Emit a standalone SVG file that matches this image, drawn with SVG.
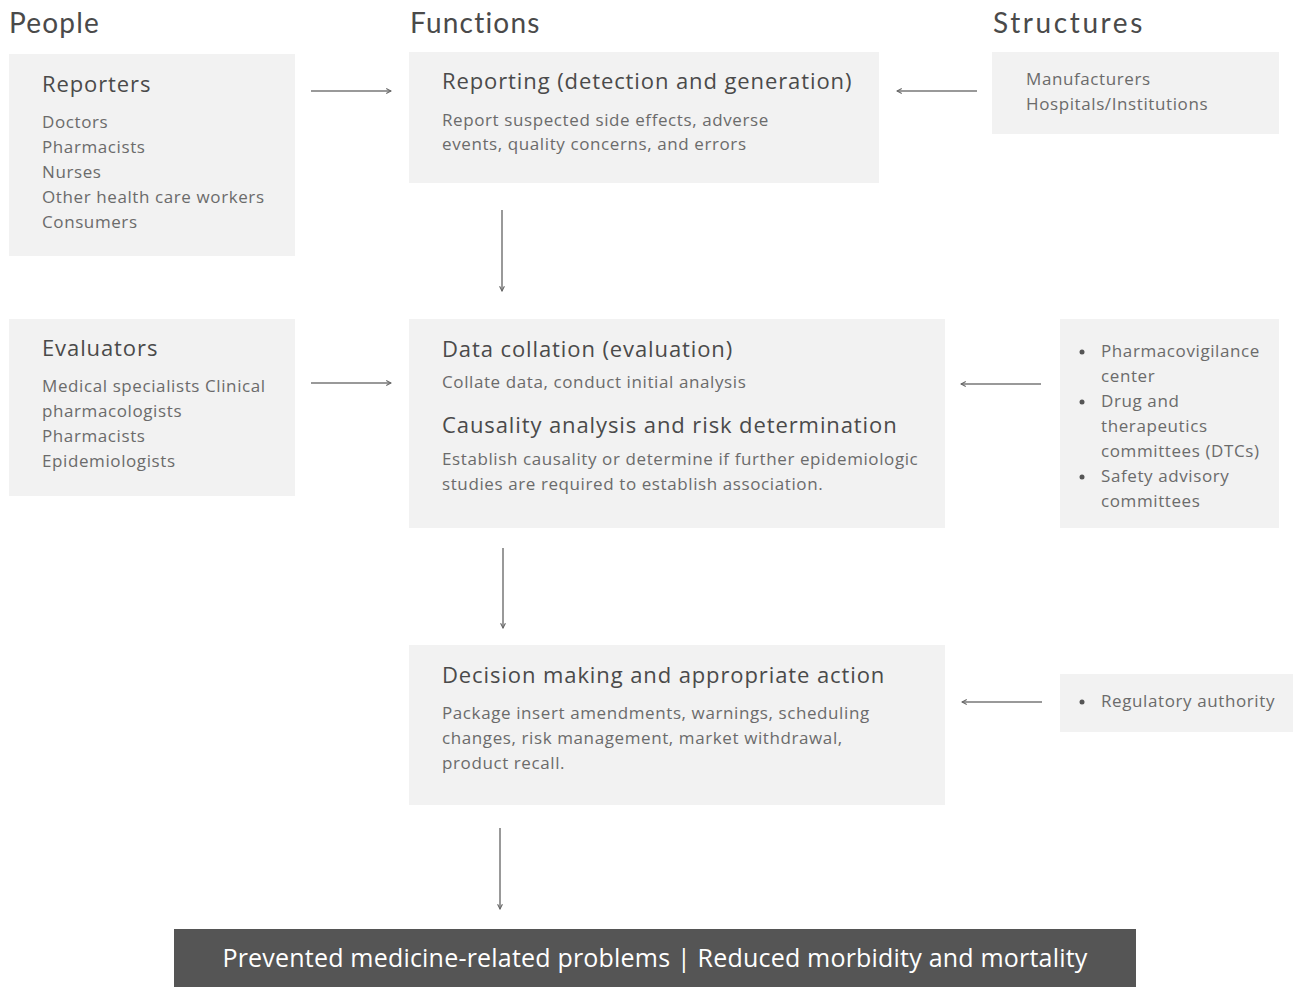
<svg xmlns="http://www.w3.org/2000/svg" width="1293" height="987" viewBox="0 0 1293 987">
<style>
.bg{fill:#fff}
.box{fill:#f2f2f2}
.hd{font-family:Lato,"Open Sans",sans-serif;font-size:28px;fill:#4a4a4a;letter-spacing:1.2px}
.tt{font-family:"Open Sans",Lato,sans-serif;font-size:22px;fill:#4a4a4a;letter-spacing:0.9px}
.tx{font-family:"Open Sans",Lato,sans-serif;font-size:17px;fill:#6b6b6b;letter-spacing:0.6px}
.bt{font-family:"Open Sans",Lato,sans-serif;font-size:25px;fill:#fff;letter-spacing:0.2px}
.cn{stroke:#777;stroke-width:1.5;fill:none;marker-end:url(#ah)}
</style>
<defs>
<marker id="ah" viewBox="0 0 10 10" refX="9" refY="5" markerWidth="6" markerHeight="6" orient="auto" markerUnits="userSpaceOnUse">
<path d="M1,1 L9,5 L1,9" fill="none" stroke="#666" stroke-width="1.8"/>
</marker>
</defs>
<rect class="bg" width="1293" height="987"/>
<g id="headers">
<text class="hd" x="9" y="33">People</text>
<text class="hd" x="410" y="33">Functions</text>
<text class="hd" x="993" y="33" style="letter-spacing:2.6px">Structures</text>
</g>
<g id="reporters">
<rect class="box" x="9" y="54" width="286" height="202"/>
<text class="tt" x="42" y="92">Reporters</text>
<text class="tx" x="42" y="128">Doctors</text>
<text class="tx" x="42" y="153">Pharmacists</text>
<text class="tx" x="42" y="178">Nurses</text>
<text class="tx" x="42" y="203">Other health care workers</text>
<text class="tx" x="42" y="228">Consumers</text>
</g>
<g id="reporting">
<rect class="box" x="409" y="52" width="470" height="131"/>
<text class="tt" x="442" y="89">Reporting (detection and generation)</text>
<text class="tx" x="442" y="126">Report suspected side effects, adverse</text>
<text class="tx" x="442" y="150">events, quality concerns, and errors</text>
</g>
<g id="structures1">
<rect class="box" x="992" y="52" width="287" height="82"/>
<text class="tx" x="1026" y="85">Manufacturers</text>
<text class="tx" x="1026" y="110">Hospitals/Institutions</text>
</g>
<g id="evaluators">
<rect class="box" x="9" y="319" width="286" height="177"/>
<text class="tt" x="42" y="356">Evaluators</text>
<text class="tx" x="42" y="392">Medical specialists Clinical</text>
<text class="tx" x="42" y="417">pharmacologists</text>
<text class="tx" x="42" y="442">Pharmacists</text>
<text class="tx" x="42" y="467">Epidemiologists</text>
</g>
<g id="collation">
<rect class="box" x="409" y="319" width="536" height="209"/>
<text class="tt" x="442" y="357">Data collation (evaluation)</text>
<text class="tx" x="442" y="388">Collate data, conduct initial analysis</text>
<text class="tt" x="442" y="433">Causality analysis and risk determination</text>
<text class="tx" x="442" y="465">Establish causality or determine if further epidemiologic</text>
<text class="tx" x="442" y="490">studies are required to establish association.</text>
</g>
<g id="structures2">
<rect class="box" x="1060" y="319" width="219" height="209"/>
<circle cx="1082" cy="352" r="2.5" fill="#555"/>
<circle cx="1082" cy="402" r="2.5" fill="#555"/>
<circle cx="1082" cy="477" r="2.5" fill="#555"/>
<text class="tx" x="1101" y="357">Pharmacovigilance</text>
<text class="tx" x="1101" y="382">center</text>
<text class="tx" x="1101" y="407">Drug and</text>
<text class="tx" x="1101" y="432">therapeutics</text>
<text class="tx" x="1101" y="457">committees (DTCs)</text>
<text class="tx" x="1101" y="482">Safety advisory</text>
<text class="tx" x="1101" y="507">committees</text>
</g>
<g id="decision">
<rect class="box" x="409" y="645" width="536" height="160"/>
<text class="tt" x="442" y="683">Decision making and appropriate action</text>
<text class="tx" x="442" y="719">Package insert amendments, warnings, scheduling</text>
<text class="tx" x="442" y="744">changes, risk management, market withdrawal,</text>
<text class="tx" x="442" y="769">product recall.</text>
</g>
<g id="structures3">
<rect class="box" x="1060" y="674" width="233" height="58"/>
<circle cx="1082" cy="702" r="2.5" fill="#555"/>
<text class="tx" x="1101" y="707">Regulatory authority</text>
</g>
<g id="outcome">
<rect x="174" y="929" width="962" height="58" fill="#555"/>
<text class="bt" x="655" y="967" text-anchor="middle">Prevented medicine-related problems | Reduced morbidity and mortality</text>
</g>
<g id="connectors">
<line class="cn" x1="311" y1="91" x2="391" y2="91"/>
<line class="cn" x1="977" y1="91" x2="897" y2="91"/>
<line class="cn" x1="502" y1="210" x2="502" y2="291"/>
<line class="cn" x1="311" y1="383" x2="391" y2="383"/>
<line class="cn" x1="1041" y1="384" x2="961" y2="384"/>
<line class="cn" x1="503" y1="548" x2="503" y2="628"/>
<line class="cn" x1="1042" y1="702" x2="962" y2="702"/>
<line class="cn" x1="500" y1="828" x2="500" y2="909"/>
</g>
</svg>
